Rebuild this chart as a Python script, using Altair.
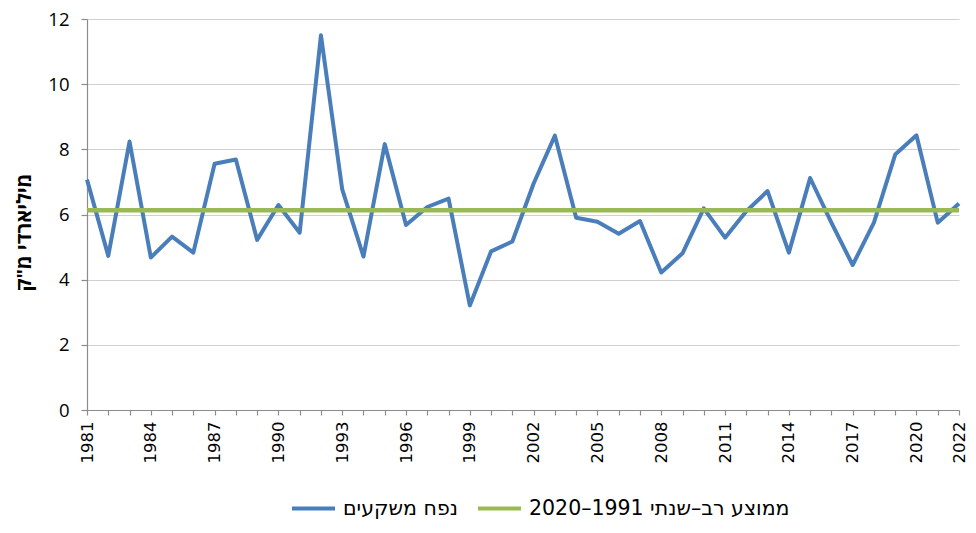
import altair as alt
import pandas as pd

years = list(range(1981, 2023))
precip = [7.07, 4.73, 8.24, 4.68, 5.32, 4.83, 7.56, 7.69, 5.22, 6.29,
          5.44, 11.50, 6.77, 4.71, 8.16, 5.68, 6.23, 6.49, 3.21, 4.87,
          5.17, 6.95, 8.42, 5.90, 5.78, 5.41, 5.80, 4.22, 4.81, 6.19,
          5.29, 6.10, 6.72, 4.83, 7.12, 5.75, 4.45, 5.75, 7.84, 8.43,
          5.75, 6.34]
avg_value = 6.13
series_names = ["נפח משקעים", "\u202bממוצע רב–שנתי 1991–2020\u202c"]
colors = ["#4a7ebb", "#98b954"]
y_title = 'מיליארדי מ"ק'
y_ticks = [0, 2, 4, 6, 8, 10, 12]

df_main = pd.DataFrame({"year": years, "value": precip, "series": series_names[0]})
df_avg = pd.DataFrame({"year": [years[0], years[-1]],
                       "value": [avg_value, avg_value],
                       "series": series_names[1]})

color = alt.Color("series:N",
                  scale=alt.Scale(domain=series_names, range=colors),
                  legend=alt.Legend(title=None, orient="none", direction="horizontal",
                                    legendX=203, legendY=466,
                                    symbolType="stroke", symbolSize=1849,
                                    symbolStrokeWidth=4, labelFontSize=20.5,
                                    labelFont="DejaVu Sans", labelColor="#000000",
                                    labelOffset=6, columnPadding=12, labelLimit=400))

x = alt.X("year:Q",
          scale=alt.Scale(domain=[years[0], years[-1]], nice=False, zero=False),
          axis=alt.Axis(values=years, format="d", title=None,
                        labelExpr="(datum.value - 1981) % 3 == 0 || datum.value == 2022 ? datum.label : ''",
                        labelAngle=-90, labelFlush=False, labelOverlap=False,
                        labelFont="DejaVu Sans", labelFontSize=16.5,
                        labelColor="#000000", labelPadding=6,
                        tickSize=5, grid=False))
y = alt.Y("value:Q",
          scale=alt.Scale(domain=[0, 12], nice=False),
          axis=alt.Axis(values=y_ticks, title=y_title, titleAngle=-90,
                        titleFont="Open Sans, DejaVu Sans", titleFontSize=20,
                        titleFontWeight="bold", titleColor="#000000",
                        titleX=-63, titleY=213, titleBaseline="middle", titleAlign="center",
                        labelFont="Open Sans, DejaVu Sans", labelFontSize=18.5,
                        labelColor="#000000", labelPadding=12, tickSize=6,
                        grid=True, gridColor="#d0d0d0", gridWidth=1.2))

main = alt.Chart(df_main).mark_line(strokeWidth=4, strokeJoin="round").encode(
    x=x, y=y, color=color)
avg = alt.Chart(df_avg).mark_line(strokeWidth=4.5).encode(
    x=x, y=y, color=color)

chart = alt.layer(main, avg).properties(
    width=872, height=391,
    autosize=alt.AutoSizeParams(type="none"),
    padding={"left": 79, "top": 11, "right": 9, "bottom": 109},
).configure_view(stroke=None).configure_axis(
    domainColor="#8c8c8c", tickColor="#8c8c8c", domainWidth=1.2, tickWidth=1.2)

chart.save("out.html", embed_options={"renderer": "svg", "actions": False})
